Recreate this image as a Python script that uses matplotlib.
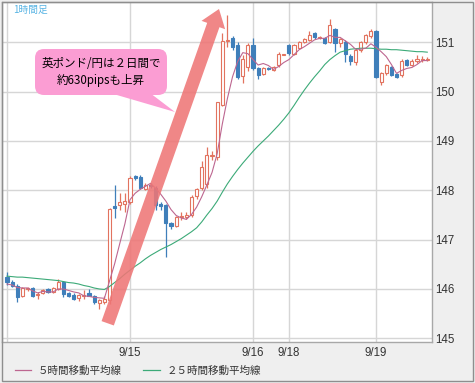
import matplotlib
matplotlib.use("Agg")
import matplotlib.pyplot as plt
from matplotlib.patches import FancyArrow, FancyBboxPatch, Polygon, Rectangle
from matplotlib.lines import Line2D

# ---------------- data (GBP/JPY, 1-hour candles) ----------------
date_ticks = [0, 24, 48, 55, 72]
date_labels = ["", "9/15", "9/16", "9/18", "9/19"]
price_ticks = [145, 146, 147, 148, 149, 150, 151]

opens = [146.25, 146.14, 146.07, 145.86, 145.99, 146.01, 145.87, 145.92, 146.00, 145.94,
         145.99, 146.15, 145.92, 145.88, 145.82, 145.86, 145.91, 145.86, 145.71, 145.74,
         145.78, 147.68, 147.70, 147.72, 147.76, 148.28, 148.27, 148.03, 148.10, 148.05,
         147.72, 147.70, 147.33, 147.27, 147.45, 147.46, 147.50, 147.88, 148.04, 148.12,
         148.70, 148.67, 149.72, 151.02, 151.08, 150.94, 150.32, 150.50, 150.94, 150.47,
         150.36, 150.48, 150.44, 150.53, 150.75, 150.94, 150.77, 150.88, 151.00, 151.04,
         151.18, 151.09, 151.08, 151.00, 151.27, 150.98, 151.00, 150.73, 150.60, 150.84,
         151.00, 151.12, 151.22, 150.20, 150.37, 150.50, 150.36, 150.33, 150.64, 150.54,
         150.62, 150.64, 150.64]
highs = [146.35, 146.18, 146.10, 146.04, 146.04, 146.03, 145.93, 146.00, 146.02, 146.04,
         146.20, 146.17, 145.94, 145.92, 145.90, 145.98, 146.00, 145.88, 145.80, 145.86,
         147.65, 148.10, 147.95, 147.95, 148.28, 148.32, 148.30, 148.14, 148.14, 148.08,
         147.76, 147.72, 147.36, 147.48, 147.55, 147.55, 147.90, 148.05, 148.60, 148.87,
         148.80, 149.80, 151.18, 151.55, 151.12, 151.00, 150.75, 150.98, 151.08, 150.50,
         150.50, 150.50, 150.52, 150.80, 150.77, 150.96, 150.96, 151.02, 151.08, 151.23,
         151.20, 151.13, 151.10, 151.48, 151.30, 151.08, 151.04, 150.76, 150.88, 151.02,
         151.16, 151.26, 151.24, 150.40, 150.56, 150.52, 150.38, 150.66, 150.66, 150.66,
         150.75, 150.72, 150.70]
lows = [146.08, 146.04, 145.73, 145.84, 145.95, 145.84, 145.80, 145.90, 145.92, 145.92,
        145.97, 145.84, 145.84, 145.78, 145.76, 145.80, 145.85, 145.70, 145.60, 145.70,
        145.70, 147.43, 147.60, 147.55, 147.72, 148.20, 148.02, 148.00, 148.04, 147.60,
        147.60, 146.64, 147.22, 147.25, 147.40, 147.42, 147.46, 147.82, 148.00, 148.05,
        148.62, 148.62, 149.70, 150.90, 150.84, 150.25, 150.17, 150.42, 150.44, 150.25,
        150.33, 150.44, 150.42, 150.50, 150.74, 150.75, 150.75, 150.86, 150.98, 151.02,
        151.06, 151.07, 150.96, 150.98, 150.80, 150.90, 150.60, 150.53, 150.55, 150.80,
        150.96, 151.08, 150.28, 150.13, 150.34, 150.32, 150.28, 150.30, 150.52, 150.52,
        150.58, 150.60, 150.62]
closes = [146.15, 146.07, 145.84, 146.01, 146.01, 145.86, 145.90, 145.98, 145.94, 146.01,
          146.15, 145.90, 145.86, 145.80, 145.88, 145.87, 145.86, 145.73, 145.78, 145.80,
          147.62, 147.64, 147.77, 147.78, 148.24, 148.25, 148.05, 148.10, 148.08, 147.70,
          147.68, 147.33, 147.27, 147.45, 147.48, 147.50, 147.86, 148.02, 148.47, 148.72,
          148.72, 149.78, 151.03, 151.05, 150.90, 150.29, 150.66, 150.94, 150.47, 150.33,
          150.47, 150.46, 150.50, 150.77, 150.76, 150.78, 150.94, 151.00, 151.06, 151.14,
          151.10, 151.11, 150.98, 151.35, 150.98, 151.06, 150.77, 150.63, 150.84, 151.00,
          151.14, 151.22, 150.30, 150.37, 150.53, 150.34, 150.30, 150.63, 150.55, 150.63,
          150.66, 150.67, 150.66]
ma5 = [146.10, 146.08, 146.03, 146.02, 146.02, 145.96, 145.92, 145.95, 145.94, 145.94,
       146.00, 146.00, 145.97, 145.94, 145.92, 145.86, 145.85, 145.83, 145.82, 145.81,
       146.16, 146.51, 146.92, 147.32, 147.81, 147.94, 148.02, 148.08, 148.14, 148.04,
       147.92, 147.78, 147.61, 147.49, 147.44, 147.41, 147.51, 147.66, 147.87, 148.11,
       148.36, 148.74, 149.34, 149.86, 150.30, 150.61, 150.79, 150.77, 150.65, 150.54,
       150.57, 150.53, 150.45, 150.51, 150.59, 150.65, 150.75, 150.85, 150.91, 150.98,
       151.05, 151.08, 151.08, 151.14, 151.10, 151.10, 151.03, 150.96, 150.86, 150.86,
       150.88, 150.97, 150.90, 150.81, 150.71, 150.55, 150.37, 150.43, 150.47, 150.49,
       150.55, 150.63, 150.63]
ma25 = [146.26, 146.25, 146.24, 146.24, 146.23, 146.22, 146.21, 146.20, 146.19, 146.18,
        146.17, 146.15, 146.13, 146.12, 146.10, 146.07, 146.05, 146.02, 146.00, 145.99,
        146.05, 146.13, 146.21, 146.30, 146.38, 146.46, 146.53, 146.61, 146.68, 146.74,
        146.80, 146.85, 146.90, 146.96, 147.02, 147.09, 147.16, 147.24, 147.36, 147.50,
        147.63, 147.78, 147.96, 148.13, 148.28, 148.42, 148.55, 148.67, 148.79, 148.90,
        149.00, 149.10, 149.21, 149.32, 149.44, 149.57, 149.72, 149.88, 150.03, 150.17,
        150.30, 150.42, 150.55, 150.65, 150.73, 150.80, 150.83, 150.86, 150.87, 150.88,
        150.88, 150.88, 150.87, 150.86, 150.86, 150.85, 150.85, 150.84, 150.83, 150.82,
        150.81, 150.81, 150.80]

title_text = "1時間足"
note_lines = ["英ポンド/円は２日間で", "約630pipsも上昇"]
legend_labels = ["５時間移動平均線", "２５時間移動平均線"]

# ---------------- style ----------------
W, H = 475, 383
UP = "#e2735f"
DOWN = "#3f7fba"
MA5_C = "#bd6690"
MA25_C = "#3caa78"
GRID = "#d6d6d6"
PANEL = "#efefef"
TXT = "#333333"
CJK = ["Noto Sans CJK JP", "DejaVu Sans"]
NUM = ["Liberation Sans", "DejaVu Sans"]

fig = plt.figure(figsize=(W / 100, H / 100), dpi=100)
fig.patch.set_facecolor(PANEL)

def ff(x, y):
    return (x / W, 1 - y / H)

def inch(x, y):
    return (x / 100, (H - y) / 100)

ax_l, ax_r, ax_t, ax_b = 2, 432.3, 2, 341.5
ax = fig.add_axes([ax_l / W, 1 - ax_b / H, (ax_r - ax_l) / W, (ax_b - ax_t) / H])
ax.set_facecolor("white")

n = len(closes)
xs = list(range(n))
ax.set_xlim(-0.976, 82.98)
ax.set_ylim(144.935, 151.817)

# grid
ax.set_xticks(date_ticks)
ax.set_xticklabels(date_labels, fontsize=8.3, color=TXT, family=NUM)
ax.set_yticks(price_ticks)
ax.set_yticklabels([str(p) for p in price_ticks], fontsize=8.3, color=TXT, family=NUM)
ax.yaxis.tick_right()
ax.tick_params(axis="both", length=0)
ax.tick_params(axis="x", pad=4)
ax.tick_params(axis="y", pad=2.2)
ax.grid(True, color=GRID, linewidth=1.0, zorder=0)
ax.set_axisbelow(True)
for s in ax.spines.values():
    s.set_color("#a8a8a8")
    s.set_linewidth(1.0)

# candles
bw = 0.62
for i in xs:
    o, h, l, c = opens[i], highs[i], lows[i], closes[i]
    up = c >= o
    col = UP if up else DOWN
    ax.vlines(i, l, h, color=col, linewidth=0.9, zorder=2)
    bottom = min(o, c)
    height = max(abs(c - o), 0.012)
    ax.bar(i, height, bottom=bottom, width=bw,
           facecolor="white" if up else DOWN, edgecolor=col,
           linewidth=0.8, zorder=3)

# moving averages
ax.plot(xs, ma25, color=MA25_C, linewidth=0.8, zorder=4)
ax.plot(xs, ma5, color=MA5_C, linewidth=0.8, zorder=4)

# timeframe label
fig.text(*ff(13, 9.5), title_text, fontsize=7, color="#58b4e4", family=CJK,
         ha="left", va="center")

# big arrow
t0 = inch(107.7, 323.3)
t1 = inch(219, 9)
arrow = FancyArrow(t0[0], t0[1], t1[0] - t0[0], t1[1] - t0[1], width=0.13,
                   head_width=0.25, head_length=0.17, length_includes_head=True,
                   transform=fig.dpi_scale_trans, facecolor="#ee7676",
                   edgecolor="none", alpha=0.88, zorder=5)
fig.patches.append(arrow)

# callout
bx0, by0, bx1, by1 = 35, 49, 167, 95
box = FancyBboxPatch(inch(bx0, by1), (bx1 - bx0) / 100, (by1 - by0) / 100,
                     boxstyle="round,pad=0,rounding_size=0.09",
                     transform=fig.dpi_scale_trans, facecolor="#fb9dd3",
                     edgecolor="none", zorder=6)
fig.patches.append(box)
tail = Polygon([inch(110, 93), inch(150, 93), inch(175, 112)], closed=True,
               transform=fig.dpi_scale_trans, facecolor="#fb9dd3",
               edgecolor="none", zorder=6)
fig.patches.append(tail)
fig.text(*ff(101, 63.5), note_lines[0], fontsize=8.3, color="black", family=CJK,
         ha="center", va="center", zorder=7)
fig.text(*ff(101, 80.5), note_lines[1], fontsize=8.3, color="black", family=CJK,
         ha="center", va="center", zorder=7)

# legend
fig.lines.append(Line2D([15 / W, 31 / W], [1 - 370 / H] * 2, color=MA5_C,
                        linewidth=0.9, transform=fig.transFigure))
fig.text(*ff(38, 370.5), legend_labels[0], fontsize=7.6, color=TXT, family=CJK,
         ha="left", va="center")
fig.lines.append(Line2D([143 / W, 160 / W], [1 - 370 / H] * 2, color=MA25_C,
                        linewidth=0.9, transform=fig.transFigure))
fig.text(*ff(167, 370.5), legend_labels[1], fontsize=7.6, color=TXT, family=CJK,
         ha="left", va="center")

# outer border
border = Rectangle(inch(1.5, 380.7), 471.2 / 100, 379.2 / 100,
                   transform=fig.dpi_scale_trans, facecolor="none",
                   edgecolor="#8e8e8e", linewidth=1.0, zorder=8)
fig.patches.append(border)

fig.savefig("out.png", dpi=100, facecolor=PANEL)
